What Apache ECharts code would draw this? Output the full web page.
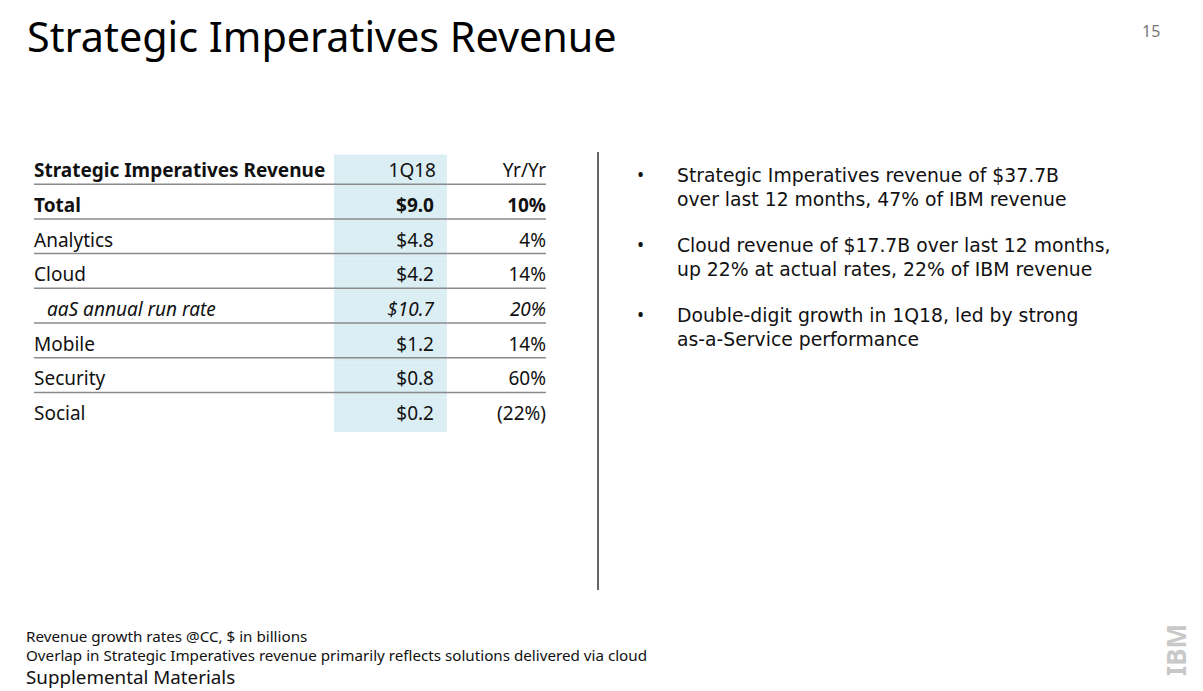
<!DOCTYPE html>
<html>
<head>
<meta charset="utf-8">
<script src="https://cdn.jsdelivr.net/npm/echarts@6/dist/echarts.min.js"></script>
<style>html,body{margin:0;padding:0;background:#fff;}#c{width:1203px;height:691px;}</style>
</head>
<body>
<div id="c"></div>
<script>
const headerLabels = ['Strategic Imperatives Revenue', '1Q18', 'Yr/Yr'];
const categories = ['Total', 'Analytics', 'Cloud', 'aaS annual run rate', 'Mobile', 'Security', 'Social'];
const revenue = [9.0, 4.8, 4.2, 10.7, 1.2, 0.8, 0.2];
const yoyGrowth = [10, 4, 14, 20, 14, 60, -22];
const rowStyles = ['bold', 'normal', 'normal', 'italic', 'normal', 'normal', 'normal'];
const bullets = [
  ['Strategic Imperatives revenue of $37.7B', 'over last 12 months, 47% of IBM revenue'],
  ['Cloud revenue of $17.7B over last 12 months,', 'up 22% at actual rates, 22% of IBM revenue'],
  ['Double-digit growth in 1Q18, led by strong', 'as-a-Service performance']
];
const footnotes = ['Revenue growth rates @CC, $ in billions', 'Overlap in Strategic Imperatives revenue primarily reflects solutions delivered via cloud'];

const FONT = '"Noto Sans", "Open Sans", sans-serif';
const BFONT = '"DejaVu Sans", "Noto Sans", sans-serif';
const rowNames = ['header'].concat(categories);
const fmtRev = v => '$' + v.toFixed(1);
const fmtYoy = v => v < 0 ? '(' + Math.abs(v) + '%)' : v + '%';

const chart = echarts.init(document.getElementById('c'), null, {renderer: 'svg'});

function renderRow(params, api) {
  const i = params.dataIndex;
  const c0 = api.coord([0, i]);
  const band = api.size([0, 1])[1];
  const x0 = c0[0];
  const xEnd = api.coord([512, i])[0];
  const blueL = api.coord([300, i])[0];
  const blueR = api.coord([413, i])[0];
  const valR = api.coord([400, i])[0];
  const top = c0[1] - band / 2;
  const bottom = c0[1] + band / 2;
  const ty = bottom - 14;
  const children = [];
  children.push({type: 'rect', shape: {x: blueL, y: top + 5, width: blueR - blueL, height: band}, style: {fill: '#dbeef4'}, silent: true});
  let name, rev, yoy, weight = 'normal', fstyle = 'normal', indent = 0;
  if (i === 0) {
    name = headerLabels[0]; rev = headerLabels[1]; yoy = headerLabels[2];
  } else {
    const k = i - 1;
    name = categories[k]; rev = fmtRev(revenue[k]); yoy = fmtYoy(yoyGrowth[k]);
    if (rowStyles[k] === 'bold') weight = 'bold';
    if (rowStyles[k] === 'italic') { fstyle = 'italic'; indent = 13; }
  }
  const nameWeight = i === 0 ? 'bold' : weight;
  const mk = (t, x, align, w) => ({
    type: 'text',
    style: {text: t, x: x, y: ty, align: align, verticalAlign: 'middle',
      font: fstyle + ' ' + w + ' 19px ' + FONT, fill: '#111'}
  });
  children.push(mk(name, x0 + indent, 'left', nameWeight));
  children.push(mk(rev, valR + (i === 0 ? 2 : 0), 'right', weight));
  children.push(mk(yoy, xEnd, 'right', weight));
  if (i < rowNames.length - 1) {
    children.push({type: 'line', shape: {x1: x0, y1: bottom, x2: xEnd, y2: bottom}, style: {stroke: '#8a8a8a', lineWidth: 1.5}});
  }
  return {type: 'group', children: children};
}

const graphics = [];
graphics.push({type: 'line', shape: {x1: 598, y1: 152, x2: 598, y2: 590}, style: {stroke: '#333', lineWidth: 1.5}});
const bulletY = [175, 245, 315];
bullets.forEach((lines, b) => {
  graphics.push({type: 'text', x: 637, y: bulletY[b], style: {text: '•', font: '19px ' + FONT, fill: '#111', verticalAlign: 'middle'}});
  graphics.push({type: 'text', x: 677, y: bulletY[b] - 12, style: {text: lines.join('\n'), font: '18.8px ' + BFONT, lineHeight: 24, fill: '#111', verticalAlign: 'top'}});
});
graphics.push({type: 'text', x: 26, y: 626, style: {text: footnotes.join('\n'), font: '15.2px ' + FONT, lineHeight: 19, fill: '#111', verticalAlign: 'top'}});
graphics.push({type: 'text', x: 26, y: 677, style: {text: 'Supplemental Materials', font: '18.8px ' + FONT, fill: '#111', verticalAlign: 'middle'}});
graphics.push({type: 'text', x: 1142, y: 31, style: {text: '15', font: '16px ' + FONT, fill: '#777', verticalAlign: 'middle'}});
graphics.push({type: 'text', x: 1176, y: 650, rotation: Math.PI / 2, style: {text: 'IBM', font: 'bold 26px ' + FONT, fill: '#c8c8c8', align: 'center', verticalAlign: 'middle'}});

chart.setOption({
  animation: false,
  backgroundColor: '#fff',
  title: {
    text: 'Strategic Imperatives Revenue',
    left: 22, top: 10,
    textStyle: {fontFamily: FONT, fontSize: 41.3, fontWeight: 'normal', color: '#000'}
  },
  grid: {left: 34, top: 149.5, width: 512, height: 277.6},
  xAxis: {type: 'value', min: 0, max: 512, show: false},
  yAxis: {type: 'category', data: rowNames, inverse: true, show: false},
  series: [{
    type: 'custom',
    renderItem: renderRow,
    data: rowNames.map((n, i) => [0, i]),
    silent: true
  }],
  graphic: graphics
});
</script>
</body>
</html>
